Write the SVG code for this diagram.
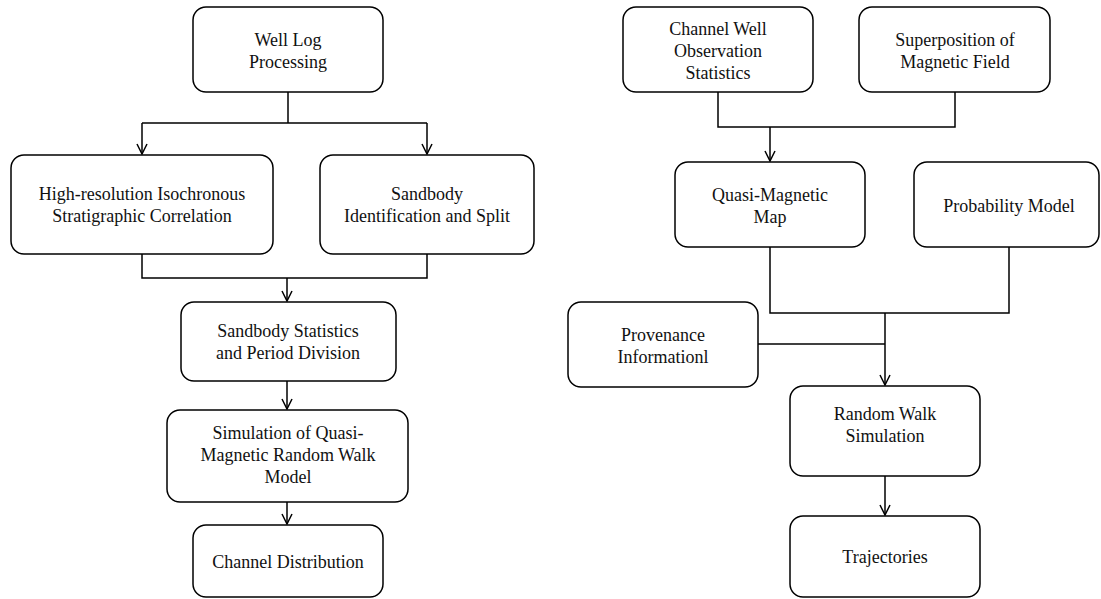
<svg xmlns="http://www.w3.org/2000/svg" width="1101" height="599" viewBox="0 0 1101 599">
<style>
.box{fill:#fff;stroke:#000;stroke-width:1.5}
text{font-family:"Liberation Serif","Times New Roman",serif;font-size:18px;fill:#111;text-anchor:middle}
.c{fill:none;stroke:#000;stroke-width:1.5}
</style>
<defs>
<marker id="ah" viewBox="0 0 12 12" refX="11" refY="6" markerWidth="12" markerHeight="12" markerUnits="userSpaceOnUse" orient="auto">
<path d="M1,1 L11,6 L1,11" fill="none" stroke="#000" stroke-width="1.5"/>
</marker>
</defs>
<rect width="1101" height="599" fill="#fff"/>
<g id="connectors">
<path class="c" d="M288,92 V123 M142,123 H427"/>
<path class="c" d="M142,123 V154" marker-end="url(#ah)"/>
<path class="c" d="M427,123 V154" marker-end="url(#ah)"/>
<path class="c" d="M142,254 V278 H427 V254"/>
<path class="c" d="M287,278 V301" marker-end="url(#ah)"/>
<path class="c" d="M287,381 V409" marker-end="url(#ah)"/>
<path class="c" d="M287,502 V524" marker-end="url(#ah)"/>
<path class="c" d="M718,92 V127 H955 V92"/>
<path class="c" d="M770,127 V161" marker-end="url(#ah)"/>
<path class="c" d="M770,247 V313 H1009 V247"/>
<path class="c" d="M758,344 H885"/>
<path class="c" d="M885,313 V385" marker-end="url(#ah)"/>
<path class="c" d="M885,476 V515" marker-end="url(#ah)"/>
</g>
<g id="n1"><rect class="box" x="193" y="7" width="190" height="85" rx="13"/><text x="288" y="46">Well Log</text><text x="288" y="68">Processing</text></g>
<g id="n2"><rect class="box" x="11" y="155" width="262" height="99" rx="13"/><text x="142" y="200">High-resolution Isochronous</text><text x="142" y="222">Stratigraphic Correlation</text></g>
<g id="n3"><rect class="box" x="320" y="155" width="214" height="99" rx="13"/><text x="427" y="200">Sandbody</text><text x="427" y="222">Identification and Split</text></g>
<g id="n4"><rect class="box" x="181" y="302" width="215" height="79" rx="13"/><text x="288" y="337">Sandbody Statistics</text><text x="288" y="359">and Period Division</text></g>
<g id="n5"><rect class="box" x="167" y="410" width="241" height="92" rx="13"/><text x="288" y="439">Simulation of Quasi-</text><text x="288" y="461">Magnetic Random Walk</text><text x="288" y="483">Model</text></g>
<g id="n6"><rect class="box" x="193" y="525" width="190" height="72" rx="13"/><text x="288" y="568">Channel Distribution</text></g>
<g id="n7"><rect class="box" x="623" y="7" width="190" height="85" rx="13"/><text x="718" y="35">Channel Well</text><text x="718" y="57">Observation</text><text x="718" y="79">Statistics</text></g>
<g id="n8"><rect class="box" x="859" y="7" width="191" height="85" rx="13"/><text x="955" y="46">Superposition of</text><text x="955" y="68">Magnetic Field</text></g>
<g id="n9"><rect class="box" x="675" y="162" width="190" height="85" rx="13"/><text x="770" y="201">Quasi-Magnetic</text><text x="770" y="223">Map</text></g>
<g id="n10"><rect class="box" x="914" y="162" width="185" height="85" rx="13"/><text x="1009" y="212">Probability Model</text></g>
<g id="n11"><rect class="box" x="568" y="302" width="190" height="85" rx="13"/><text x="663" y="341">Provenance</text><text x="663" y="363">Informationl</text></g>
<g id="n12"><rect class="box" x="790" y="386" width="190" height="90" rx="13"/><text x="885" y="420">Random Walk</text><text x="885" y="442">Simulation</text></g>
<g id="n13"><rect class="box" x="790" y="516" width="190" height="81" rx="13"/><text x="885" y="563">Trajectories</text></g>
</svg>
